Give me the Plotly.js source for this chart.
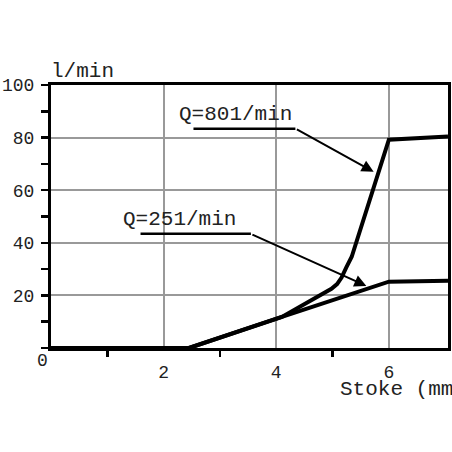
<!DOCTYPE html>
<html><head><meta charset="utf-8">
<script src="https://cdn.plot.ly/plotly-3.0.1.min.js"></script>
<style>html,body{margin:0;padding:0;background:#fff;}#c{width:452px;height:452px;}</style>
</head><body><div id="c"></div>
<script>
// Data
const stroke80 = [0, 2.45, 4.1, 4.98, 5.08, 5.16, 5.24, 5.34, 6.0, 7.05];
const flow80   = [0, 0, 11.8, 22.5, 24.3, 26.8, 30.5, 34.7, 79.2, 80.4];
const stroke25 = [0, 2.45, 4.1, 6.0, 7.05];
const flow25   = [0, 0, 11.8, 25.2, 25.6];
const label80 = "Q=801/min";
const label25 = "Q=251/min";
const xTickVals = [2, 4, 6];
const xTickText = ["2", "4", "6"];
const xMinorVals = [1, 3, 5];
const yTickVals = [20, 40, 60, 80, 100];
const yTickText = ["20", "40", "60", "80", "100"];
const yUnit = "l/min";
const xUnit = "Stoke (mm)";

const FONT = "Liberation Mono, DejaVu Sans Mono, monospace";
const traces = [
  {x: stroke80, y: flow80, mode: "lines", line: {color: "#000", width: 4}, hoverinfo: "skip"},
  {x: stroke25, y: flow25, mode: "lines", line: {color: "#000", width: 4}, hoverinfo: "skip"}
];
const layout = {
  width: 452, height: 452,
  margin: {l: 51, r: 4, t: 85, b: 104},
  paper_bgcolor: "#fff", plot_bgcolor: "#fff",
  showlegend: false,
  font: {family: FONT, color: "#222", size: 18},
  xaxis: {
    range: [0, 7.05], tickvals: xTickVals, ticktext: xTickText,
    ticks: "outside", ticklen: 5, tickcolor: "rgba(0,0,0,0)", ticklabelstandoff: 0,
    showgrid: true, gridcolor: "#999", gridwidth: 2,
    showline: true, linecolor: "#000", linewidth: 3, mirror: true, zeroline: false,
    minor: {tickvals: xMinorVals, ticks: "outside", ticklen: 6, tickwidth: 2.5, tickcolor: "#000", showgrid: false},
    tickfont: {family: FONT, size: 18, color: "#222"}
  },
  yaxis: {
    range: [0, 100], tickvals: yTickVals, ticktext: yTickText,
    ticks: "outside", ticklen: 7, tickwidth: 2.5, tickcolor: "#000", ticklabelstandoff: 3,
    showgrid: true, gridcolor: "#999", gridwidth: 2,
    showline: true, linecolor: "#000", linewidth: 3, mirror: true, zeroline: false,
    minor: {dtick: 10, ticks: "outside", ticklen: 7, tickwidth: 2.5, tickcolor: "#000", showgrid: false},
    tickfont: {family: FONT, size: 18, color: "#222"}
  },
  shapes: [
    {type: "line", xref: "x", yref: "y", x0: 2.53, y0: 83.4, x1: 4.34, y1: 83.4, line: {color: "#000", width: 2.5}},
    {type: "line", xref: "x", yref: "y", x0: 1.59, y0: 43.4, x1: 3.55, y1: 43.4, line: {color: "#000", width: 2.5}}
  ],
  annotations: [
    {xref: "x", yref: "y", x: 5.73, y: 67.0, ax: 4.34, ay: 83.4, axref: "x", ayref: "y", text: "", showarrow: true, arrowhead: 2, arrowsize: 1.2, arrowwidth: 2, arrowcolor: "#000"},
    {xref: "x", yref: "y", x: 5.60, y: 23.6, ax: 3.55, ay: 43.4, axref: "x", ayref: "y", text: "", showarrow: true, arrowhead: 2, arrowsize: 1.2, arrowwidth: 2, arrowcolor: "#000"},
    {xref: "x", yref: "y", x: 3.28, y: 83.6, text: label80, showarrow: false, yanchor: "bottom", font: {family: FONT, size: 21, color: "#222"}},
    {xref: "x", yref: "y", x: 2.29, y: 43.6, text: label25, showarrow: false, yanchor: "bottom", font: {family: FONT, size: 21, color: "#222"}},
    {xref: "paper", yref: "paper", x: -0.006, y: 1.0, xanchor: "left", yanchor: "bottom", text: yUnit, showarrow: false, font: {family: FONT, size: 21, color: "#222"}},
    {xref: "paper", yref: "paper", x: 0.723, y: -0.108, xanchor: "left", yanchor: "top", text: xUnit, showarrow: false, font: {family: FONT, size: 21, color: "#222"}},
    {xref: "paper", yref: "paper", x: -0.003, y: -0.005, xanchor: "right", yanchor: "top", text: "0", showarrow: false, font: {family: FONT, size: 18, color: "#222"}}
  ]
};
Plotly.newPlot("c", traces, layout, {staticPlot: true, displayModeBar: false});
</script></body></html>
